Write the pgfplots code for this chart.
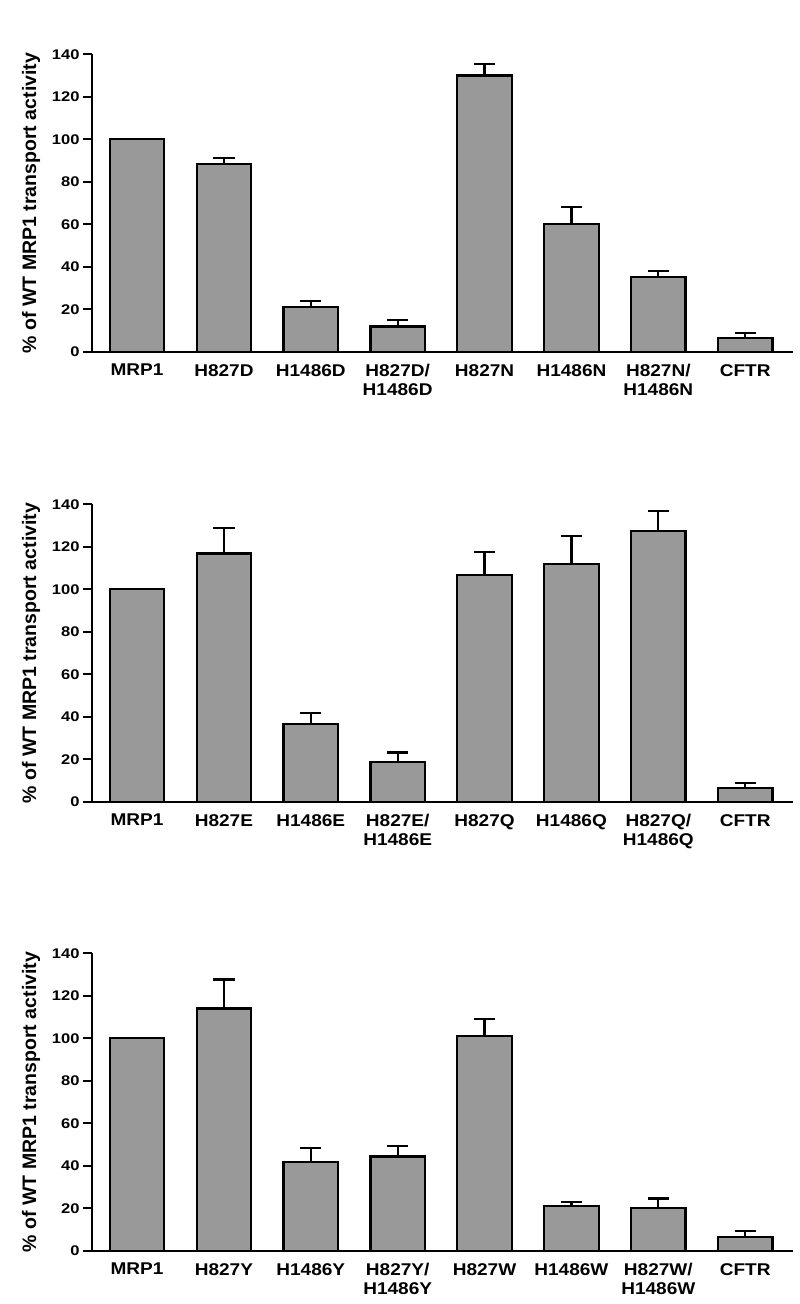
\documentclass[border=0pt]{standalone}
\usepackage{pgfplots}
\pgfplotsset{compat=1.18}
\usepackage{fontspec}
\setmainfont{Liberation Sans}
\newfontfamily\xfont{Liberation Sans}[FakeStretch=1.12]
\newfontfamily\yfont{Liberation Sans}[FakeStretch=1.18]
\definecolor{barfill}{gray}{0.6}

\pgfplotsset{
 mrp/.style={
  width=701pt, height=297.4pt, scale only axis,
  xmin=-0.518, xmax=7.55, ymin=0, ymax=140,
  enlargelimits=false,
  axis x line*=bottom, axis y line*=left,
  axis line style={line width=2.2pt, -},
  xtick={0,...,7}, ytick={0,20,...,140},
  tick align=outside,
  major tick length=9pt,
  every tick/.style={line width=2.2pt, black},
  x tick style={draw=none},
  xticklabel style={font={\fontsize{17}{19.3}\selectfont\xfont\bfseries}, align=center, anchor=north},
  yticklabel style={font={\fontsize{14}{16}\selectfont\yfont\bfseries}},
  /pgf/number format/assume math mode=true,
  ylabel={\% of WT MRP1 transport activity},
  ylabel style={font={\fontsize{19.5}{22}\selectfont\bfseries}, at={(axis description cs:-0.087,0.5)}, anchor=center},
  ybar, bar width=54.5pt,
  clip=false,
 },
 mrpbar/.style={fill=barfill, draw=black, line width=2.2pt,
  error bars/.cd, y dir=plus, y explicit,
  error bar style={line width=2.2pt, black},
  error mark options={rotate=90, mark size=10.7pt, line width=2.2pt, black}},
}

\pgfplotstableread{
x y e
0 100 0
1 88.2 2.8
2 20.9 3.1
3 11.9 3.2
4 130.0 5.6
5 60.1 8.0
6 35.3 2.8
7 6.3 2.6
}\dataA
\pgfplotstableread{
x y e
0 100 0
1 116.8 12.2
2 36.6 5.0
3 18.8 4.4
4 106.6 11.1
5 111.8 13.1
6 127.6 9.3
7 6.4 2.5
}\dataB
\pgfplotstableread{
x y e
0 100 0
1 114.0 13.7
2 41.7 6.5
3 44.3 5.0
4 101.2 8.0
5 20.9 1.9
6 20.2 4.4
7 6.6 2.5
}\dataC

\begin{document}
\begin{tikzpicture}
\path[use as bounding box] (0,0) rectangle (800pt,1304pt);

\begin{axis}[mrp, at={(92pt,952.3pt)}, anchor=south west,
  xticklabels={MRP1, H827D, H1486D, {H827D/\\H1486D}, H827N, H1486N, {H827N/\\H1486N}, CFTR}]
\addplot[mrpbar] table[x=x, y=y, y error=e] {\dataA};
\end{axis}

\begin{axis}[mrp, at={(92pt,502.3pt)}, anchor=south west,
  xticklabels={MRP1, H827E, H1486E, {H827E/\\H1486E}, H827Q, H1486Q, {H827Q/\\H1486Q}, CFTR}]
\addplot[mrpbar] table[x=x, y=y, y error=e] {\dataB};
\end{axis}

\begin{axis}[mrp, at={(92pt,53.3pt)}, anchor=south west,
  xticklabels={MRP1, H827Y, H1486Y, {H827Y/\\H1486Y}, H827W, H1486W, {H827W/\\H1486W}, CFTR}]
\addplot[mrpbar] table[x=x, y=y, y error=e] {\dataC};
\end{axis}
\end{tikzpicture}
\end{document}
